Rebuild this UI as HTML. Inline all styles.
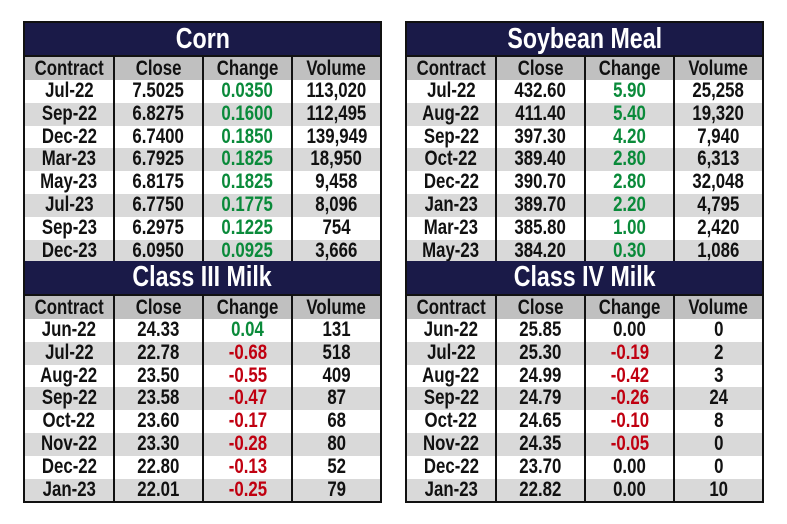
<!DOCTYPE html>
<html><head><meta charset="utf-8"><style>
body{margin:0;width:787px;height:524px;background:#fff;overflow:hidden;position:relative;font-family:"Liberation Sans",sans-serif;font-weight:bold}
.tbl{position:absolute;border:2px solid #111;box-sizing:border-box;background:#fff}
.title{position:absolute;left:0;right:0;background:#1a1a48;color:#fff;text-align:center;font-size:29px;border-bottom:2px solid #111;box-sizing:border-box}
.row{position:absolute;left:0;right:0;display:flex}
.c{box-sizing:border-box;text-align:center;font-size:21px;color:#111;border-right:2px solid #111;overflow:hidden;white-space:nowrap}
.c:last-child{border-right:none}
.c span,.title span{display:inline-block;transform:scaleX(0.8)}
.hdr{background:#c0c0c0}
.alt{background:#d9d9d9}
.g{color:#0a8a3a}.r{color:#c00010}
</style></head><body>
<script>
const cols=['Contract','Close','Change','Volume'];
const tables=[
{name:'Corn',x:23,y:21,sec:0,rows:[['Jul-22','7.5025','0.0350','113,020'],['Sep-22','6.8275','0.1600','112,495'],['Dec-22','6.7400','0.1850','139,949'],['Mar-23','6.7925','0.1825','18,950'],['May-23','6.8175','0.1825','9,458'],['Jul-23','6.7750','0.1775','8,096'],['Sep-23','6.2975','0.1225','754'],['Dec-23','6.0950','0.0925','3,666']]},
{name:'Soybean Meal',x:405,y:21,sec:0,rows:[['Jul-22','432.60','5.90','25,258'],['Aug-22','411.40','5.40','19,320'],['Sep-22','397.30','4.20','7,940'],['Oct-22','389.40','2.80','6,313'],['Dec-22','390.70','2.80','32,048'],['Jan-23','389.70','2.20','4,795'],['Mar-23','385.80','1.00','2,420'],['May-23','384.20','0.30','1,086']]},
{name:'Class III Milk',x:23,y:261,sec:1,rows:[['Jun-22','24.33','0.04','131'],['Jul-22','22.78','-0.68','518'],['Aug-22','23.50','-0.55','409'],['Sep-22','23.58','-0.47','87'],['Oct-22','23.60','-0.17','68'],['Nov-22','23.30','-0.28','80'],['Dec-22','22.80','-0.13','52'],['Jan-23','22.01','-0.25','79']]},
{name:'Class IV Milk',x:405,y:261,sec:1,rows:[['Jun-22','25.85','0.00','0'],['Jul-22','25.30','-0.19','2'],['Aug-22','24.99','-0.42','3'],['Sep-22','24.79','-0.26','24'],['Oct-22','24.65','-0.10','8'],['Nov-22','24.35','-0.05','0'],['Dec-22','23.70','0.00','0'],['Jan-23','22.82','0.00','10']]}
];
const W=359, widths=[90,89,89,87], RH=22.8;
tables.forEach(t=>{
 const d=document.createElement('div');
 d.className='tbl';
 
 
 const bottom=t.sec?503:263;
 d.style.cssText=`left:${t.x}px;top:${t.y}px;width:${W}px;height:${bottom-t.y}px;`+(t.sec?'border-top:none;':'border-bottom:none;');
 const ti=document.createElement('div');
 ti.className='title';
 
 
 const ts=document.createElement('span');
 ts.textContent=t.name;
 ti.appendChild(ts);
 const th=t.sec?35:34;
 ti.style.cssText=`top:0;height:${th}px;line-height:${th-2}px;`;
 d.appendChild(ti);
 const mk=(vals,y,h,cls,isHdr)=>{
  const r=document.createElement('div');
  r.className='row '+cls;
  
  
  r.style.cssText=`top:${y}px;height:${h}px;`;
  vals.forEach((v,i)=>{
   const c=document.createElement('div');
   c.className='c';
   
   
   if(!isHdr&&i==2){const n=parseFloat(v);if(n>0)c.classList.add('g');else if(n<0)c.classList.add('r');}
   c.style.cssText=`width:${widths[i]}px;line-height:${h}px;`;
   const s=document.createElement('span');
   s.textContent=v;
   c.appendChild(s);
   r.appendChild(c);
  });
  d.appendChild(r);
 };
 mk(cols,th,23,'hdr',true);
 t.rows.forEach((row,i)=>mk(row,th+23+i*RH,RH,i%2?'alt':'',false));
 document.body.appendChild(d);
});
</script>
</body></html>
